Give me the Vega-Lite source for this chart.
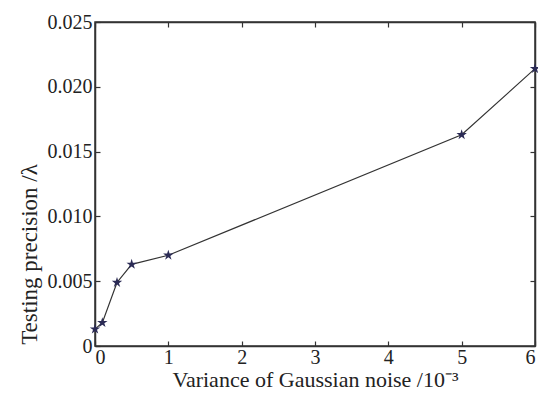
{
  "$schema": "https://vega.github.io/schema/vega-lite/v6.json",
  "width": 440,
  "height": 324,
  "padding": {"left": 18, "top": 12, "right": 0, "bottom": 0},
  "background": "white",
  "config": {
    "font": "Liberation Serif",
    "view": {"stroke": "#333333", "strokeWidth": 1.5},
    "axis": {
      "labelFont": "Liberation Serif",
      "titleFont": "Liberation Serif",
      "labelFontSize": 20,
      "titleFontSize": 22,
      "titleFontWeight": "normal",
      "labelColor": "#222222",
      "titleColor": "#222222",
      "domainColor": "#333333",
      "domainWidth": 1.5,
      "tickColor": "#333333",
      "tickWidth": 1.2,
      "tickSize": -5,
      "grid": false
    }
  },
  "data": {
    "values": [
      {"variance": 0, "precision": 0.0013},
      {"variance": 0.1, "precision": 0.0018},
      {"variance": 0.3, "precision": 0.0049},
      {"variance": 0.5, "precision": 0.0063},
      {"variance": 1, "precision": 0.0070},
      {"variance": 5, "precision": 0.0163},
      {"variance": 6, "precision": 0.0214}
    ]
  },
  "layer": [
    {
      "mark": {"type": "line", "color": "#333333", "strokeWidth": 1.2,
        "point": {"shape": "M0,-1L0.2245,-0.309L0.951,-0.309L0.363,0.118L0.588,0.809L0,0.382L-0.588,0.809L-0.363,0.118L-0.951,-0.309L-0.2245,-0.309Z", "filled": true, "color": "#2b2b55", "size": 120, "opacity": 1}},
      "encoding": {
        "x": {
          "field": "variance", "type": "quantitative",
          "scale": {"domain": [0, 6], "nice": false, "zero": true},
          "axis": {"orient": "bottom", "values": [0, 1, 2, 3, 4, 5, 6], "format": "d", "labelPadding": 6,
            "title": "Variance of Gaussian noise /10⁻³", "titlePadding": 2}
        },
        "y": {
          "field": "precision", "type": "quantitative",
          "scale": {"domain": [0, 0.025], "nice": false},
          "axis": {"orient": "left", "values": [0, 0.005, 0.01, 0.015, 0.02, 0.025],
            "labelExpr": "datum.value == 0 ? '0' : format(datum.value, '.3f')", "labelPadding": 8,
            "title": "Testing precision /λ", "titleFontSize": 23, "titlePadding": 6, "titleY": 232}
        }
      }
    },
    {
      "mark": {"type": "point", "opacity": 0},
      "encoding": {
        "x": {"field": "variance", "type": "quantitative",
          "axis": {"orient": "top", "values": [0, 1, 2, 3, 4, 5, 6], "labels": false, "title": null}},
        "y": {"field": "precision", "type": "quantitative",
          "axis": {"orient": "right", "values": [0, 0.005, 0.01, 0.015, 0.02, 0.025], "labels": false, "title": null}}
      }
    }
  ],
  "resolve": {"axis": {"x": "independent", "y": "independent"}}
}
